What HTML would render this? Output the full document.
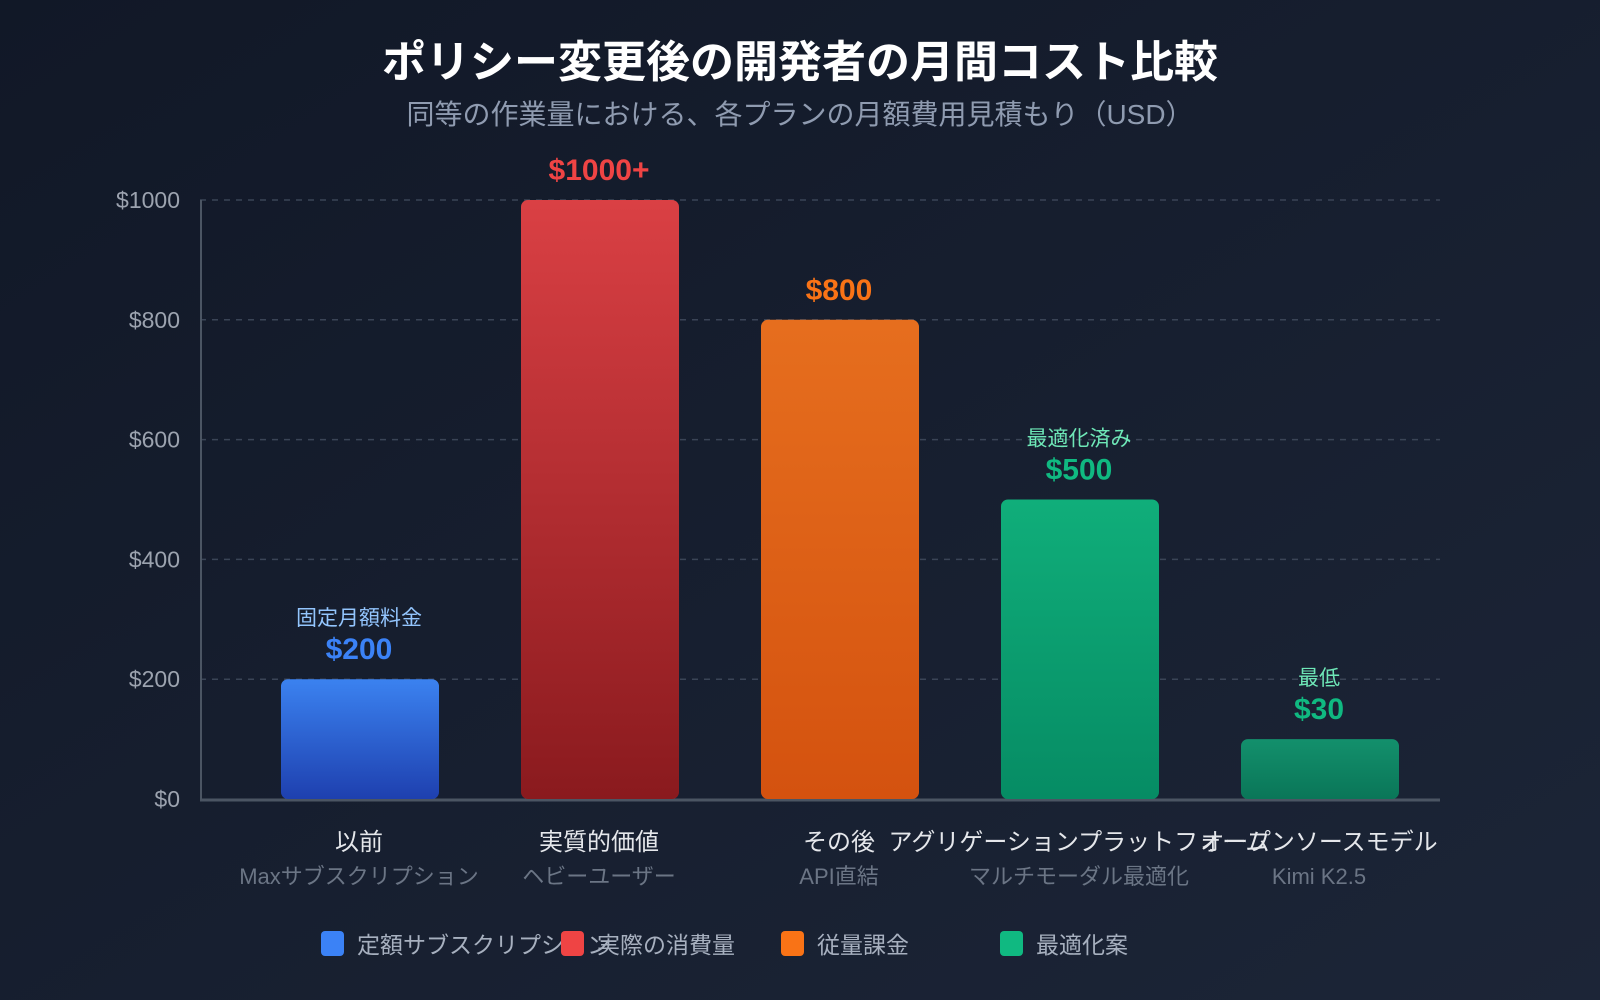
<!DOCTYPE html>
<html><head><meta charset="utf-8">
<style>
html,body{margin:0;padding:0;width:1600px;height:1000px;overflow:hidden;background:#161e2f}
svg{display:block}
text{font-family:"Liberation Sans","Noto Sans CJK JP",sans-serif}
</style></head>
<body>
<svg id="chart" width="1600" height="1000" viewBox="0 0 1600 1000">
<defs>
<linearGradient id="bg" x1="0" y1="0" x2="1" y2="1"><stop offset="0" stop-color="#111827"/><stop offset="1" stop-color="#1c2537"/></linearGradient>
<linearGradient id="g0" x1="0" y1="0" x2="0" y2="1"><stop offset="0" stop-color="#3b82f0"/><stop offset="1" stop-color="#1e40af"/></linearGradient>
<linearGradient id="g1" x1="0" y1="0" x2="0" y2="1"><stop offset="0" stop-color="#da4044"/><stop offset="1" stop-color="#8a1a1e"/></linearGradient>
<linearGradient id="g2" x1="0" y1="0" x2="0" y2="1"><stop offset="0" stop-color="#e66e1e"/><stop offset="1" stop-color="#d4520f"/></linearGradient>
<linearGradient id="g3" x1="0" y1="0" x2="0" y2="1"><stop offset="0" stop-color="#10ae7a"/><stop offset="1" stop-color="#068c64"/></linearGradient>
<linearGradient id="g4" x1="0" y1="0" x2="0" y2="1"><stop offset="0" stop-color="#13906c"/><stop offset="1" stop-color="#0a7658"/></linearGradient>
</defs>
<rect width="1600" height="1000" fill="url(#bg)"/>
<text x="800" y="77" text-anchor="middle" font-size="44" font-weight="bold" fill="#ffffff">ポリシー変更後の開発者の月間コスト比較</text>
<text x="800" y="124" text-anchor="middle" font-size="28" fill="#8f9bb0">同等の作業量における、各プランの月額費用見積もり（USD）</text>
<g id="grid"></g>
<g id="bars"></g>
<g id="labels"></g>
<g id="legend"></g>
</svg>
<script>
const categories = ["以前","実質的価値","その後","アグリゲーションプラットフォーム","オープンソースモデル"];
const subCategories = ["Maxサブスクリプション","ヘビーユーザー","API直結","マルチモーダル最適化","Kimi K2.5"];
const values = [200,1000,800,500,100];
const valueLabels = ["$200","$1000+","$800","$500","$30"];
const noteLabels = ["固定月額料金","","","最適化済み","最低"];
const yTicks = [0,200,400,600,800,1000];
const yTickLabels = ["$0","$200","$400","$600","$800","$1000"];
const legendLabels = ["定額サブスクリプション","実際の消費量","従量課金","最適化案"];

const NS="http://www.w3.org/2000/svg";
const y0=799, y1=200, vmax=1000;
const yScale=v=>y0-(v/vmax)*(y0-y1);
const xCenter=i=>359+240*i;
const barW=158;
const valueColors=["#3b82f6","#ef4444","#f97316","#10b981","#10b981"];
const noteColors=["#93c5fd","#fca5a5","#fdba74","#6ee7b7","#6ee7b7"];
const legendColors=["#3b82f6","#ef4444","#f97316","#10b981"];
const legendX=[321,561,781,1000];
function mk(tag,attrs,parent,txt){const e=document.createElementNS(NS,tag);for(const k in attrs)e.setAttribute(k,attrs[k]);if(txt!==undefined)e.textContent=txt;parent.appendChild(e);return e;}

const grid=document.getElementById('grid');
yTicks.forEach((t,i)=>{
  const y=yScale(t);
  if(t>0){const l=mk('line',{x1:200,x2:1440,y1:y,y2:y,stroke:'#3a4456','stroke-width':1.5,'stroke-dasharray':'6 6'},grid);
  
  }
  const tx=mk('text',{x:180,y:y+8,'text-anchor':'end','font-size':23,fill:'#9ca3af'},grid,yTickLabels[i]);
  
  
});
const ax=mk('line',{x1:201,x2:201,y1:200,y2:800,stroke:'#4b5563','stroke-width':2},grid);



const bars=document.getElementById('bars');
const labels=document.getElementById('labels');
values.forEach((v,i)=>{
  const cx=xCenter(i), top=yScale(v);
  const r=mk('rect',{x:cx-barW/2+1,y:top,width:barW,height:y0-top,rx:7,fill:`url(#g${i})`},bars);
  
  
  const vl=mk('text',{x:cx,y:top-20,'text-anchor':'middle','font-size':30,'font-weight':'bold',fill:valueColors[i]},labels,valueLabels[i]);
  
  
  if(noteLabels[i]){
    const nl=mk('text',{x:cx,y:top-54,'text-anchor':'middle','font-size':21,fill:noteColors[i]},labels,noteLabels[i]);
    
    
  }
  const cl=mk('text',{x:cx,y:850,'text-anchor':'middle','font-size':24,fill:'#e5e7eb'},labels,categories[i]);
  
  
  const sl=mk('text',{x:cx,y:884,'text-anchor':'middle','font-size':22,fill:'#6b7585'},labels,subCategories[i]);
  
  
});
const xa=mk('line',{x1:200,x2:1440,y1:800,y2:800,stroke:'#4b5563','stroke-width':3},grid);



const legend=document.getElementById('legend');
legendLabels.forEach((lab,i)=>{
  const g=mk('g',{},legend);
  
  
  mk('rect',{x:legendX[i],y:931,width:23,height:25,rx:4,fill:legendColors[i]},g);
  mk('text',{x:legendX[i]+36,y:953,'font-size':23,fill:'#a7b0bf'},g,lab);
});
</script>
</body></html>
